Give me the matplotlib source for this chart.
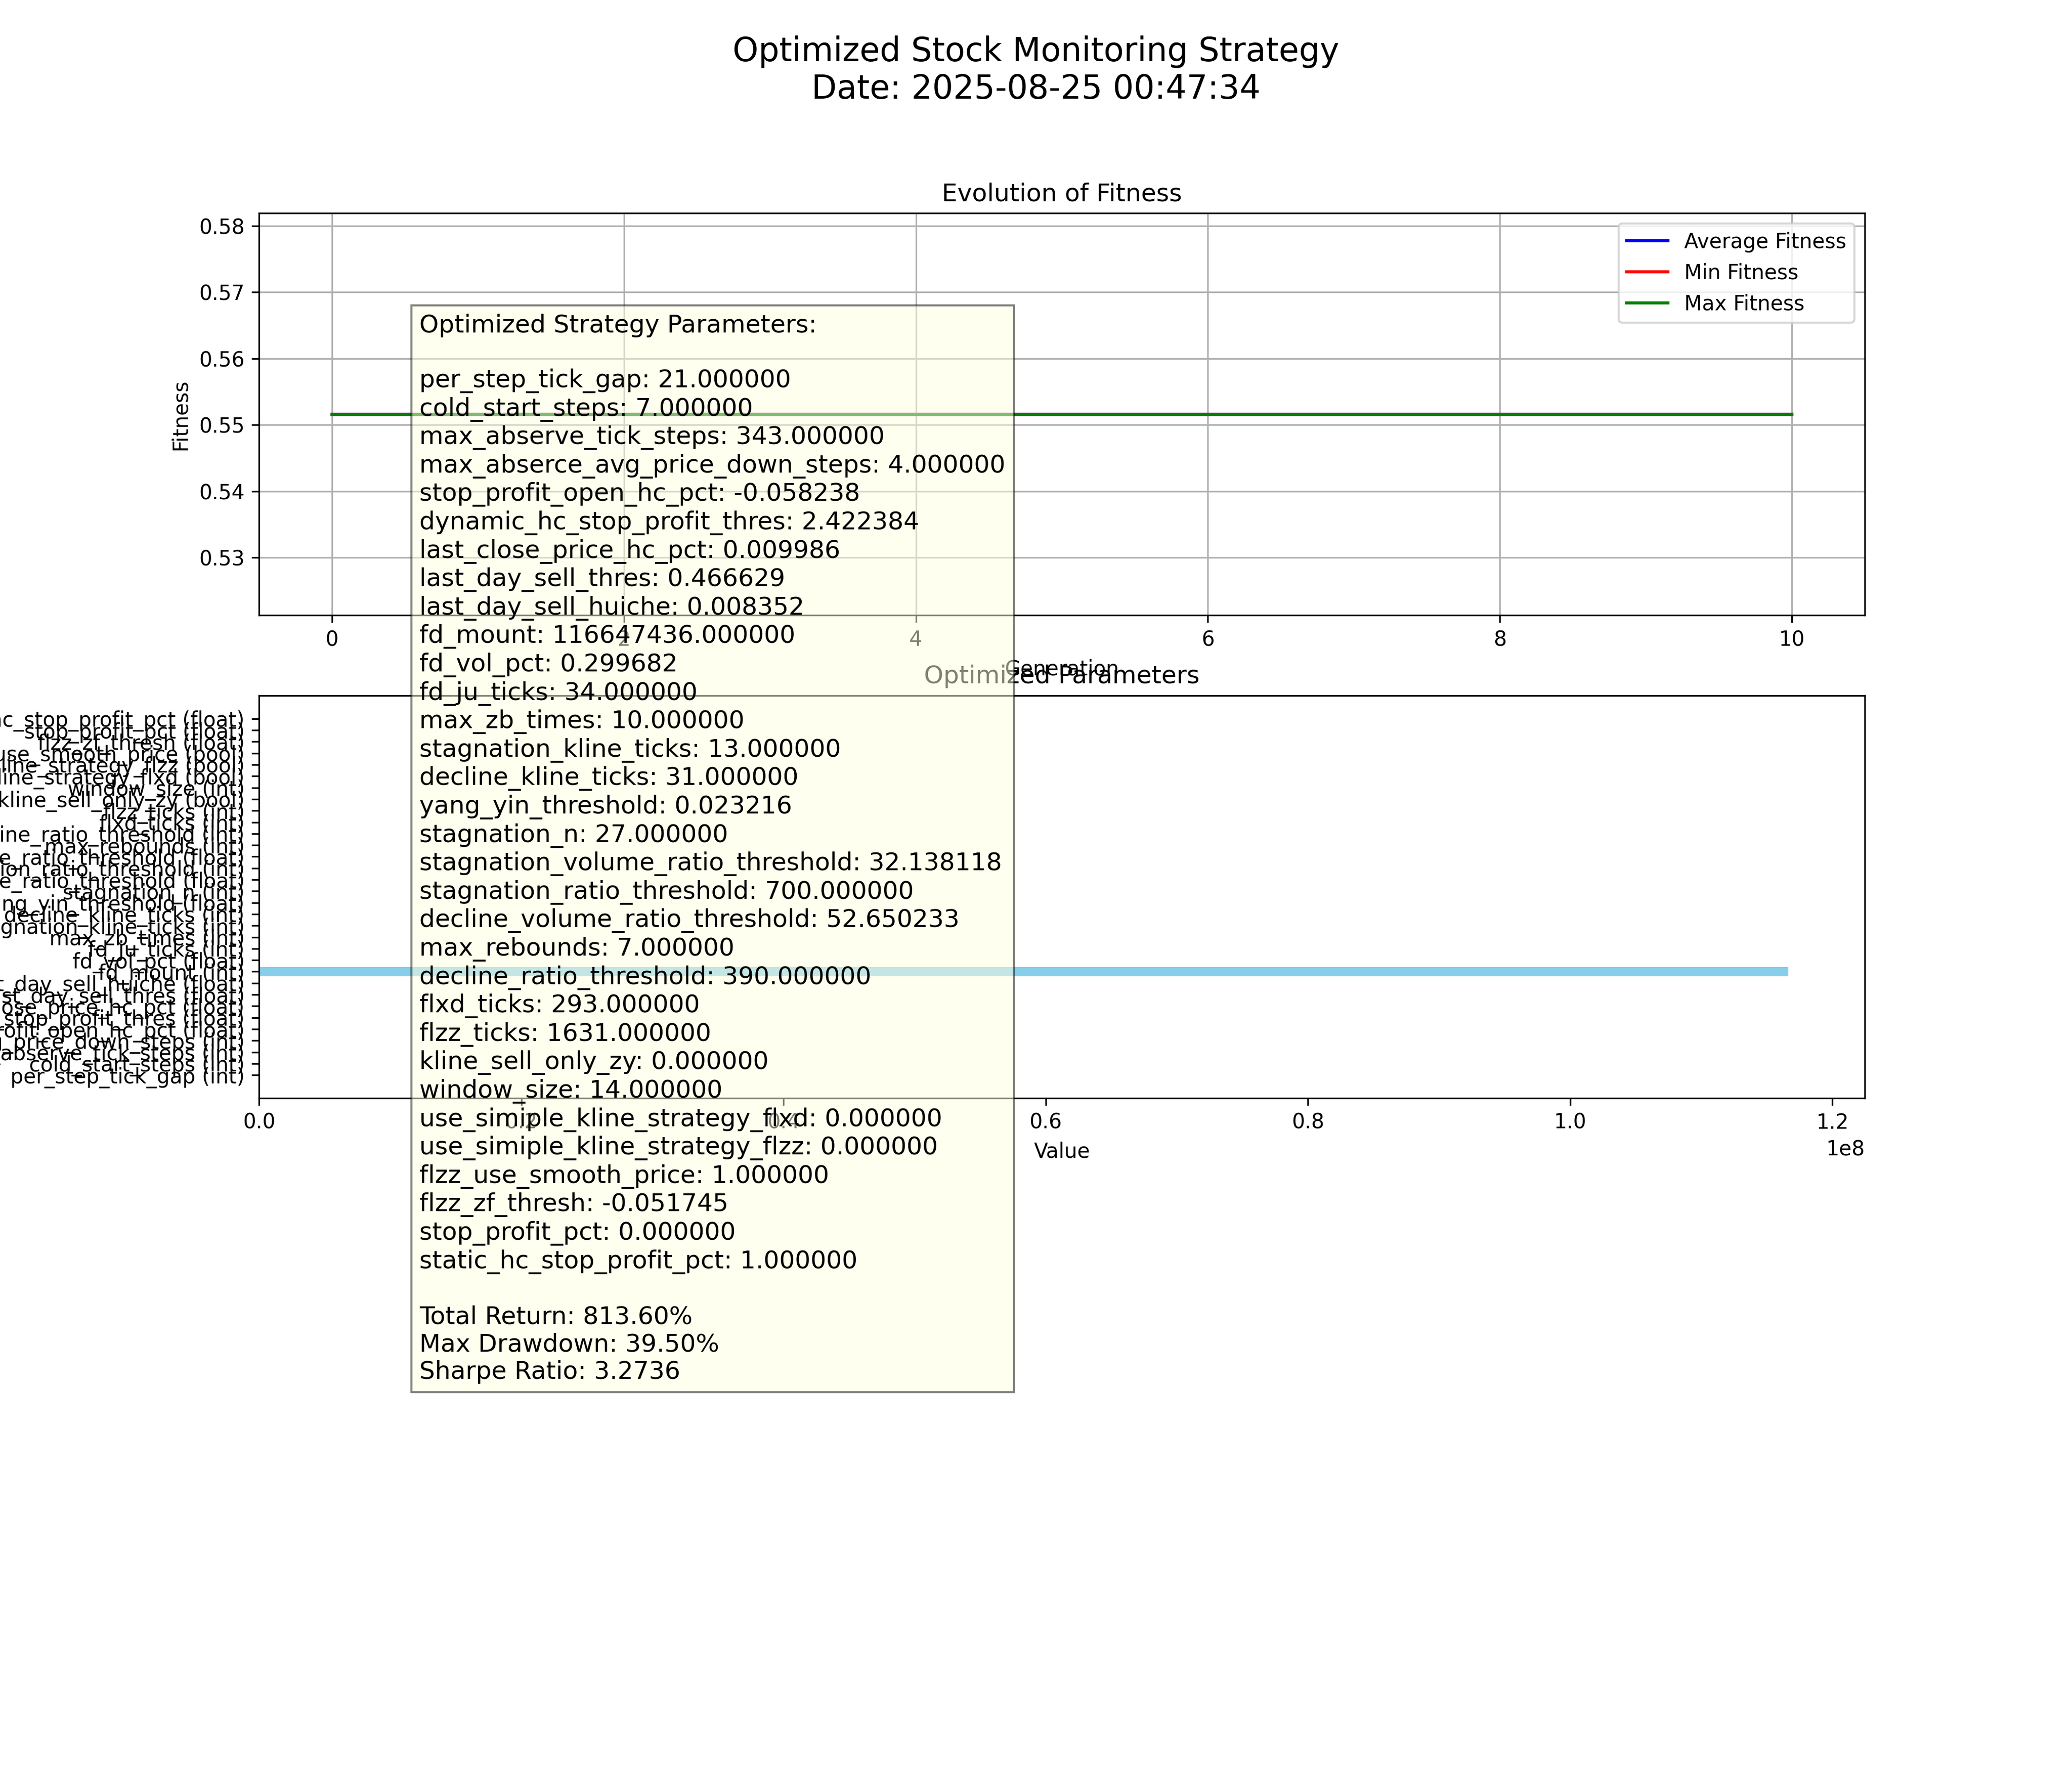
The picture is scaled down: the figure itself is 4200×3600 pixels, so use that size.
import matplotlib
matplotlib.use("Agg")
import matplotlib.pyplot as plt

# fitness history per generation
generations = list(range(11))
avg_fitness = [0.5516] * 11
min_fitness = [0.5516] * 11
max_fitness = [0.5516] * 11

param_names = [
    "per_step_tick_gap", "cold_start_steps", "max_abserve_tick_steps",
    "max_abserce_avg_price_down_steps", "stop_profit_open_hc_pct",
    "dynamic_hc_stop_profit_thres", "last_close_price_hc_pct",
    "last_day_sell_thres", "last_day_sell_huiche", "fd_mount", "fd_vol_pct",
    "fd_ju_ticks", "max_zb_times", "stagnation_kline_ticks",
    "decline_kline_ticks", "yang_yin_threshold", "stagnation_n",
    "stagnation_volume_ratio_threshold", "stagnation_ratio_threshold",
    "decline_volume_ratio_threshold", "max_rebounds", "decline_ratio_threshold",
    "flxd_ticks", "flzz_ticks", "kline_sell_only_zy", "window_size",
    "use_simiple_kline_strategy_flxd", "use_simiple_kline_strategy_flzz",
    "flzz_use_smooth_price", "flzz_zf_thresh", "stop_profit_pct",
    "static_hc_stop_profit_pct",
]
param_types = [
    "int", "int", "int", "int", "float", "float", "float", "float", "float",
    "int", "float", "int", "int", "int", "int", "float", "int", "float", "int",
    "float", "int", "int", "int", "int", "bool", "int", "bool", "bool", "bool",
    "float", "float", "float",
]
param_values = [
    21.0, 7.0, 343.0, 4.0, -0.058238, 2.422384, 0.009986, 0.466629, 0.008352,
    116647436.0, 0.299682, 34.0, 10.0, 13.0, 31.0, 0.023216, 27.0, 32.138118,
    700.0, 52.650233, 7.0, 390.0, 293.0, 1631.0, 0.0, 14.0, 0.0, 0.0, 1.0,
    -0.051745, 0.0, 1.0,
]

total_return = 813.60
max_drawdown = 39.50
sharpe_ratio = 3.2736

fig = plt.figure(figsize=(14, 12))
fig.suptitle("Optimized Stock Monitoring Strategy\nDate: 2025-08-25 00:47:34", fontsize=16)

ax1 = fig.add_subplot(3, 1, 1)
ax1.plot(generations, avg_fitness, "b-", label="Average Fitness")
ax1.plot(generations, min_fitness, "r-", label="Min Fitness")
ax1.plot(generations, max_fitness, "g-", label="Max Fitness")
ax1.set_title("Evolution of Fitness")
ax1.set_xlabel("Generation")
ax1.set_ylabel("Fitness")
ax1.legend(loc="upper right")
ax1.grid(True)

ax2 = fig.add_subplot(3, 1, 2)
labels = [f"{n} ({t})" for n, t in zip(param_names, param_types)]
ax2.barh(labels, param_values, color="skyblue")
ax2.set_title("Optimized Parameters")
ax2.set_xlabel("Value")

# parameter summary box
text = "Optimized Strategy Parameters:\n\n"
text += "\n".join(f"{n}: {v:.6f}" for n, v in zip(param_names, param_values))
text += f"\n\nTotal Return: {total_return:.2f}%"
text += f"\nMax Drawdown: {max_drawdown:.2f}%"
text += f"\nSharpe Ratio: {sharpe_ratio:.4f}"
fig.text(0.1, 0.75, text, transform=ax1.transAxes, fontsize=12, va="top",
         bbox=dict(facecolor="lightyellow", alpha=0.5))

fig.savefig("out.png", dpi=300)
